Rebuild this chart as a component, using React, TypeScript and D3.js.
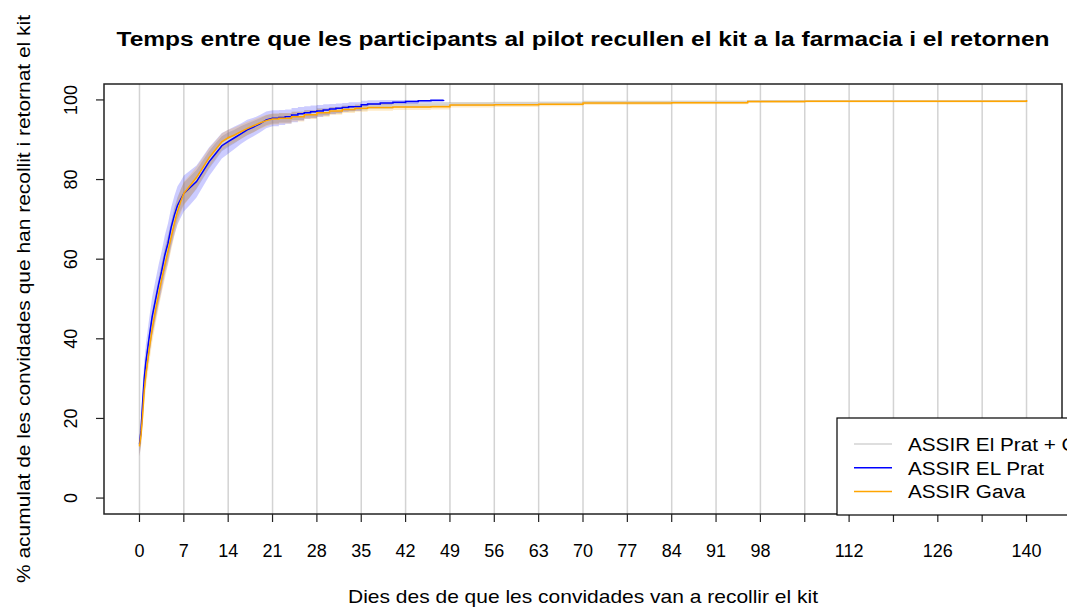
import React from "react";
import * as d3 from "d3";

// ---------- data ----------
const pratDays = [0, 0.25, 0.5, 0.75, 1, 1.5, 2, 2.5, 3, 3.5, 4, 4.5, 5, 5.5, 6, 6.5, 7, 8, 9, 10, 11, 12, 13, 14, 15, 16, 17, 18, 19, 20, 21, 22, 23, 24, 25, 26, 27, 28, 29, 30, 31, 32, 33, 35, 36, 38, 40, 42, 44, 46, 48];
const pratVals = [13.5, 17, 24, 30, 34, 40, 45.5, 49.5, 53.5, 57, 61, 64, 68, 71, 73.5, 75, 76.5, 78, 79.5, 82, 84.5, 86.5, 88.5, 89.5, 90.5, 91.5, 92.5, 93.2, 94, 95, 95.4, 95.6, 95.8, 96.2, 96.5, 96.8, 97, 97.2, 97.5, 97.7, 97.9, 98.1, 98.3, 98.8, 99, 99.2, 99.4, 99.6, 99.8, 99.9, 100];
const pratCI = [3, 3.5, 4, 4.3, 4.5, 4.8, 5, 5, 5, 5, 5, 5, 5, 4.9, 4.8, 4.6, 4.5, 4.3, 4, 3.8, 3.6, 3.4, 3.2, 3, 2.8, 2.6, 2.5, 2.3, 2.2, 2.1, 2, 1.9, 1.8, 1.8, 1.7, 1.6, 1.6, 1.5, 1.4, 1.3, 1.2, 1.1, 1.1, 1, 0.9, 0.8, 0.7, 0.6, 0.5, 0.4, 0.3];

const gavaDays = [0, 0.25, 0.5, 0.75, 1, 1.5, 2, 2.5, 3, 3.5, 4, 4.5, 5, 5.5, 6, 6.5, 7, 8, 9, 10, 11, 12, 13, 14, 15, 16, 17, 18, 19, 20, 21, 22, 24, 26, 28, 30, 32, 34, 36, 40, 46, 49, 56, 63, 70, 84, 96, 105, 140];
const gavaVals = [13, 16, 21, 27, 31, 37, 42.5, 47, 51, 55, 58.5, 62, 65.5, 69, 72, 74.5, 76.5, 78.5, 80.5, 83, 85.5, 87.5, 89.5, 90.5, 91.2, 92, 92.8, 93.5, 94.2, 94.8, 95.2, 95.4, 95.8, 96.3, 96.8, 97.2, 97.6, 97.9, 98.1, 98.2, 98.3, 98.7, 98.8, 98.9, 99.2, 99.3, 99.6, 99.65, 100];
const gavaCI = [2.5, 3, 3.3, 3.5, 3.5, 3.5, 3.5, 3.5, 3.5, 3.5, 3.5, 3.4, 3.3, 3.2, 3.1, 3, 3, 2.8, 2.7, 2.5, 2.4, 2.2, 2.1, 2, 1.9, 1.8, 1.7, 1.6, 1.5, 1.45, 1.4, 1.3, 1.2, 1.1, 1, 0.95, 0.9, 0.85, 0.8, 0.75, 0.7, 0.6, 0.55, 0.5, 0.45, 0.4, 0.35, 0.3, 0.1];

const allDays = [0, 0.25, 0.5, 0.75, 1, 1.5, 2, 2.5, 3, 3.5, 4, 4.5, 5, 5.5, 6, 6.5, 7, 8, 9, 10, 11, 12, 13, 14, 15, 16, 17, 18, 19, 20, 21, 22, 24, 26, 28, 30, 32, 34, 36, 40, 46, 49, 56, 63, 70, 84, 96, 105, 140];
const allVals = [13.2, 16.5, 22.5, 28.5, 32.5, 38.5, 44, 48, 52, 56, 60, 63, 66.5, 70, 72.8, 74.8, 76.5, 78.2, 80, 82.5, 85, 87, 89, 90, 90.8, 91.8, 92.6, 93.3, 94.1, 94.9, 95.3, 95.5, 96, 96.5, 97, 97.4, 97.8, 98.1, 98.5, 98.7, 98.9, 99, 99.1, 99.2, 99.4, 99.5, 99.7, 99.75, 100];
const allCI = [2, 2.4, 2.7, 2.9, 3, 3, 3, 3, 3, 3, 3, 3, 3, 2.9, 2.8, 2.7, 2.7, 2.6, 2.4, 2.3, 2.2, 2.1, 1.9, 1.8, 1.7, 1.6, 1.5, 1.4, 1.3, 1.25, 1.2, 1.15, 1.05, 0.95, 0.9, 0.85, 0.8, 0.75, 0.7, 0.6, 0.55, 0.5, 0.45, 0.42, 0.4, 0.35, 0.3, 0.25, 0.1];

const xTicks = [0, 7, 14, 21, 28, 35, 42, 49, 56, 63, 70, 77, 84, 91, 98, 105, 112, 119, 126, 133, 140];
const xTickLabels = ["0", "7", "14", "21", "28", "35", "42", "49", "56", "63", "70", "77", "84", "91", "98", "", "112", "", "126", "", "140"];
const yTicks = [0, 20, 40, 60, 80, 100];

const legendLabels = ["ASSIR El Prat + Gava", "ASSIR EL Prat", "ASSIR Gava"];
const legendColors = ["#d3d3d3", "#0000ff", "#ffa500"];

const title = "Temps entre que les participants al pilot recullen el kit a la farmacia i el retornen";
const xLabel = "Dies des de que les convidades van a recollir el kit";
const yLabel = "% acumulat de les convidades que han recollit i retornat el kit";

// ---------- layout ----------
const W = 1067, H = 607;
const L = 104, R = 1062, T = 84, B = 514;
const FONT = "Liberation Sans, Arial, sans-serif";
const STEP_FROM = 21; // drawn as steps after the third week

type Pt = { d: number; v: number; c: number };
const toPts = (days: number[], vals: number[], ci: number[]): Pt[] => {
  const out: Pt[] = [];
  days.forEach((d, i) => {
    if (i > 0 && days[i - 1] >= STEP_FROM) {
      out.push({ d, v: vals[i - 1], c: ci[i - 1] });
    }
    out.push({ d, v: vals[i], c: ci[i] });
  });
  return out;
};

export default function App() {
  const x = d3.scaleLinear().domain([-5.6, 145.6]).range([L, R]);
  const y = d3.scaleLinear().domain([-4, 104]).range([B, T]);

  const series = [
    { pts: toPts(allDays, allVals, allCI), line: "#d3d3d3", band: "rgba(128,128,128,0.28)" },
    { pts: toPts(pratDays, pratVals, pratCI), line: "#0000ff", band: "rgba(0,0,255,0.2)" },
    { pts: toPts(gavaDays, gavaVals, gavaCI), line: "#ffa500", band: "rgba(255,165,0,0.22)" },
  ];

  const area = d3
    .area<Pt>()
    .x((p) => x(p.d))
    .y0((p) => y(Math.max(0, p.v - p.c)))
    .y1((p) => y(Math.min(100, p.v + p.c)));
  const line = d3
    .line<Pt>()
    .x((p) => x(p.d))
    .y((p) => y(p.v));

  const legX = 837, legY = 418;

  return (
    <svg width={W} height={H} style={{ position: "absolute", left: 0, top: 0, background: "#fff" }} fontFamily={FONT}>
      <rect x={0} y={0} width={W} height={H} fill="#fff" />
      {xTicks.map((t) => (
        <line key={"g" + t} x1={x(t)} x2={x(t)} y1={T} y2={B} stroke="#d3d3d3" strokeWidth={1.5} />
      ))}
      {series.map((s, i) => (
        <path key={"b" + i} d={area(s.pts) || ""} fill={s.band} stroke="none" />
      ))}
      {series.map((s, i) => (
        <path key={"l" + i} d={line(s.pts) || ""} fill="none" stroke={s.line} strokeWidth={1.5} />
      ))}
      <rect x={L} y={T} width={R - L} height={B - T} fill="none" stroke="#222" strokeWidth={1.5} />
      {xTicks.map((t, i) => (
        <g key={"x" + t}>
          <line x1={x(t)} x2={x(t)} y1={B} y2={B + 8} stroke="#222" strokeWidth={1.2} />
          <text x={x(t)} y={557} fontSize={18} textAnchor="middle" fill="#000">
            {xTickLabels[i]}
          </text>
        </g>
      ))}
      {yTicks.map((t) => (
        <g key={"y" + t}>
          <line x1={L - 8} x2={L} y1={y(t)} y2={y(t)} stroke="#222" strokeWidth={1.2} />
          <text transform={`translate(77,${y(t)}) rotate(-90)`} fontSize={18} textAnchor="middle" fill="#000">
            {t}
          </text>
        </g>
      ))}
      <text x={(L + R) / 2} y={46} fontSize={20} fontWeight="bold" textAnchor="middle" fill="#000"
        textLength={933} lengthAdjust="spacingAndGlyphs">
        {title}
      </text>
      <text x={(L + R) / 2} y={603} fontSize={19} textAnchor="middle" fill="#000"
        textLength={470} lengthAdjust="spacingAndGlyphs">
        {xLabel}
      </text>
      <text transform={`translate(30,${(T + B) / 2}) rotate(-90)`} fontSize={19} textAnchor="middle" fill="#000"
        textLength={568} lengthAdjust="spacingAndGlyphs">
        {yLabel}
      </text>
      <rect x={legX} y={legY} width={W - legX + 20} height={B - legY + 1} fill="#fff" stroke="#000" strokeWidth={1.2} />
      {legendLabels.map((lab, i) => (
        <g key={"lg" + i}>
          <line x1={854} x2={892} y1={444 + i * 23.7} y2={444 + i * 23.7} stroke={legendColors[i]} strokeWidth={1.5} />
          <text transform={`translate(908,${451 + i * 23.7}) scale(1.09,1)`} fontSize={19} fill="#000">
            {lab}
          </text>
        </g>
      ))}
    </svg>
  );
}
